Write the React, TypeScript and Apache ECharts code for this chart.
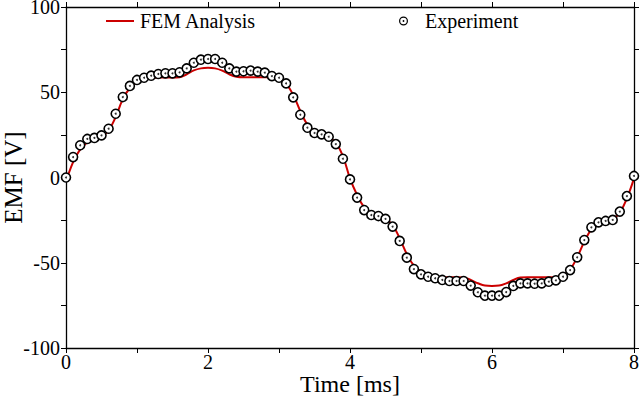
import { useEffect, useRef } from "react";
import * as echarts from "echarts";

// ---- data ----

// sample times [ms], 0.1 ms grid
const TIME: number[] = Array.from({ length: 81 }, (_, i) => Math.round(i) / 10);

// measured EMF [V]
const EXPERIMENT: number[] = [
  0, 12.0, 18.9, 22.6, 23.2, 24.7, 28.6, 37.4, 47.2, 53.7,
  57.2, 58.5, 59.7, 60.7, 61.1, 61.1, 61.7, 64.0, 67.3, 69.1,
  69.5, 69.5, 67.3, 64.0, 62.1, 62.3, 62.7, 62.1, 61.5, 59.5,
  58.5, 55.2, 47.0, 36.8, 29.2, 26.1, 25.3, 23.9, 19.6, 11.0,
  -1.1, -11.8, -19.1, -22.0, -22.6, -24.3, -28.8, -37.2, -47.0, -53.7,
  -56.8, -58.2, -59.1, -60.1, -60.7, -60.7, -60.7, -63.4, -67.3, -69.3,
  -69.3, -69.3, -67.2, -63.6, -62.1, -62.1, -62.3, -62.1, -61.1, -60.3,
  -58.2, -54.3, -46.8, -36.7, -29.2, -26.3, -25.5, -24.9, -20.0, -10.9,
  0.9,
];

// FEM simulated EMF [V]
const FEM: number[] = [
  -2.5, 9, 16.5, 20.5, 22.5, 24, 27.5, 35.5, 46, 52.5,
  56, 57.5, 58.3, 58.6, 58.6, 58.6, 58.8, 60.5, 62.8, 64,
  64.3, 64, 62.7, 60.5, 59.1, 58.8, 58.8, 58.8, 58.8, 58.8,
  57.8, 55, 48.5, 39, 31, 27, 25, 23.5, 20.5, 12.5,
  -0.5, -10.3, -17.5, -21, -22.6, -24.5, -27.9, -35.7, -44.9, -51.7,
  -55.2, -57.2, -58.2, -58.5, -58.5, -58.5, -58.6, -60.1, -62, -63.4,
  -63.6, -63.4, -62.1, -60.1, -58.7, -58.5, -58.5, -58.5, -58.5, -58.5,
  -57.2, -53.9, -46.8, -37.6, -30.4, -26.9, -25.3, -24.3, -20.6, -12.2,
  -0.5,
];

const X_MIN = 0;
const X_MAX = 8;
const Y_MIN = -100;
const Y_MAX = 100;

// ---- styles ----

const FONT = "Liberation Serif";
const RED = "#cc0000";

// ring with a centre dot, for the legend marker
const RING_ICON =
  "path://M0,-4A4,4 0 1,1 0,4A4,4 0 1,1 0,-4Z" +
  "M0,-2.9A2.9,2.9 0 1,0 0,2.9A2.9,2.9 0 1,0 0,-2.9Z" +
  "M0,-0.8A0.8,0.8 0 1,1 0,0.8A0.8,0.8 0 1,1 0,-0.8Z";

function boxAxis(position: string, showLabels: boolean, interval: number, min: number, max: number, step: number) {
  return {
    type: "value" as const,
    position,
    min,
    max,
    interval,
    axisLine: { show: true, onZero: false, lineStyle: { color: "#000", width: 1.3 } },
    axisTick: { show: true, inside: false, length: 5, lineStyle: { color: "#000", width: 1 } },
    splitLine: { show: false },
    axisLabel: {
      show: showLabels,
      color: "#000",
      fontFamily: FONT,
      fontSize: 20,
      margin: 6,
      formatter: (v: number) => (Math.abs(v % step) < 1e-9 ? String(v) : ""),
    },
  };
}

export default function App() {
  const chartRef = useRef<HTMLDivElement>(null);

  useEffect(() => {
    if (!chartRef.current) return;
    const chart = echarts.init(chartRef.current, undefined, { renderer: "svg" });

    const femData = TIME.map((t, i) => [t, FEM[i]]);
    const expData = TIME.map((t, i) => [t, EXPERIMENT[i]]);

    const bottomAxis = boxAxis("bottom", true, 1, X_MIN, X_MAX, 2);

    chart.setOption({
      animation: false,
      backgroundColor: "#fff",
      textStyle: { fontFamily: FONT },
      grid: { left: 66, right: 6, top: 7, bottom: 52, containLabel: false, outerBoundsMode: "none" },
      legend: [
        {
          left: 106,
          top: 11,
          padding: 0,
          itemWidth: 28,
          itemHeight: 14,
          data: [{ name: "FEM Analysis", icon: "path://M0,0L28,0L28,2L0,2Z", itemStyle: { color: RED } }],
          textStyle: { fontFamily: FONT, fontSize: 20, color: "#000", padding: [0, 0, 0, 1] },
          selectedMode: false,
        },
        {
          left: 399,
          top: 11,
          padding: 0,
          itemWidth: 9,
          itemHeight: 9,
          data: [{ name: "Experiment", icon: RING_ICON, itemStyle: { color: "#000", borderWidth: 0 } }],
          textStyle: { fontFamily: FONT, fontSize: 20, color: "#000", padding: [0, 0, 0, 12] },
          selectedMode: false,
        },
      ],
      xAxis: [
        {
          ...bottomAxis,
          axisLabel: { ...bottomAxis.axisLabel, margin: 5, lineHeight: 18 },
          name: "Time [ms]",
          nameLocation: "middle",
          nameGap: 24,
          nameMoveOverlap: false,
          nameTextStyle: { fontFamily: FONT, fontSize: 24, color: "#000", lineHeight: 24 },
        },
        boxAxis("top", false, 1, X_MIN, X_MAX, 2),
      ],
      yAxis: [
        {
          ...boxAxis("left", true, 25, Y_MIN, Y_MAX, 50),
          name: "EMF [V]",
          nameLocation: "middle",
          nameGap: 40,
          nameMoveOverlap: false,
          nameTextStyle: { fontFamily: FONT, fontSize: 25, color: "#000" },
        },
        boxAxis("right", false, 25, Y_MIN, Y_MAX, 50),
      ],
      series: [
        {
          name: "FEM Analysis",
          type: "line",
          data: femData,
          smooth: 0.4,
          showSymbol: false,
          lineStyle: { color: RED, width: 2 },
          itemStyle: { color: RED },
          z: 2,
        },
        {
          name: "Experiment",
          type: "scatter",
          data: expData,
          symbol: "circle",
          symbolSize: 9,
          itemStyle: { color: "#fff", borderColor: "#000", borderWidth: 1.6, opacity: 1 },
          z: 3,
        },
        {
          name: "Experiment dots",
          type: "scatter",
          data: expData,
          symbol: "circle",
          symbolSize: 2,
          itemStyle: { color: "#000" },
          z: 4,
        },
      ],
    });

    return () => chart.dispose();
  }, []);

  return (
    <div
      ref={chartRef}
      style={{ position: "fixed", left: 0, top: 0, width: 640, height: 400, background: "#fff" }}
    />
  );
}
